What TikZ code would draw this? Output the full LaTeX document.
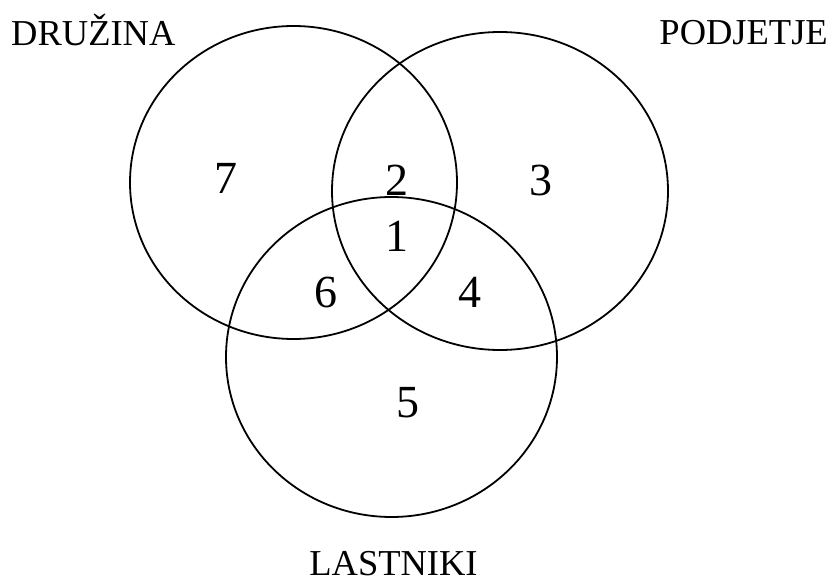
\documentclass[tikz,border=0pt]{standalone}
\usepackage{fontspec}
\setmainfont{Liberation Serif}
\begin{document}
\begin{tikzpicture}[x=1pt,y=-1pt,
  setline/.style={line width=1.8pt},
  setlabel/.style={inner sep=0pt,font=\fontsize{36.5}{40}\selectfont},
  region/.style={inner sep=0pt,font=\fontsize{46}{50}\selectfont}]
\useasboundingbox (0,0) rectangle (831,580);
\draw[setline] (293.5,182.5) ellipse [x radius=163.5, y radius=156.5];
\draw[setline] (500,191) ellipse [x radius=168, y radius=159];
\draw[setline] (391.5,357) ellipse [x radius=165.5, y radius=160];
\node[setlabel,anchor=base west] (druzina) at (11,46) {DRUŽINA};
\node[setlabel,anchor=base east] (podjetje) at (828,45) {PODJETJE};
\node[setlabel,anchor=base] (lastniki) at (393.5,575) {LASTNIKI};
\node[region] (r7) at (226,178) {7};
\node[region] (r2) at (397,180) {2};
\node[region] (r3) at (541,180) {3};
\node[region] (r1) at (397,236) {1};
\node[region] (r6) at (326,292) {6};
\node[region] (r4) at (470,292) {4};
\node[region] (r5) at (408,403) {5};
\end{tikzpicture}
\end{document}
